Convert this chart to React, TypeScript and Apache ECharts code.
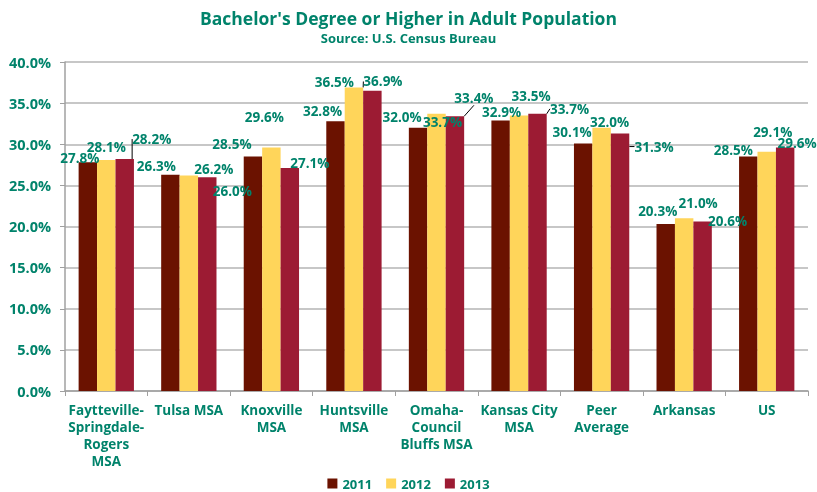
import React, { useEffect, useRef } from "react";
import * as echarts from "echarts";

const categories = [
  "Faytteville-\nSpringdale-\nRogers\nMSA",
  "Tulsa MSA",
  "Knoxville\nMSA",
  "Huntsville\nMSA",
  "Omaha-\nCouncil\nBluffs MSA",
  "Kansas City\nMSA",
  "Peer\nAverage",
  "Arkansas",
  "US",
];
const seriesNames = ["2011", "2012", "2013"];
const values2011 = [27.8, 26.3, 28.5, 32.8, 32.0, 32.9, 30.1, 20.3, 28.5];
const values2012 = [28.1, 26.2, 29.6, 36.9, 33.7, 33.5, 32.0, 21.0, 29.1];
const values2013 = [28.2, 26.0, 27.1, 36.5, 33.4, 33.7, 31.3, 20.6, 29.6];
const yTicks = { min: 0, max: 40, interval: 5 };

// label offsets (dx, dy) as placed in the reference
const labelOffsets = [
  [[-8, 8], [-14, 3], [-21, -1], [-13, 2], [-16, 1], [1, 4], [-11, 1], [-8, -1], [-15, 5]],
  [[0, -1], [25, 5], [-7, -19], [29, 6], [6, 20], [12, -7], [8, 6], [14, -3], [6, -8]],
  [[27, -8], [25, 26], [20, 7], [-38, 3], [19, -6], [32, 7], [34, 25], [25, 11], [12, 7]],
];
const leaderLines = [
  [],
  [3],
  [0, 4, 5, 6],
];

const TEAL = "#00836B";
const COLORS = ["#6B1200", "#FFD55A", "#9C1B33"];
const FONT = "Open Sans";

export default function App() {
  const ref = useRef<HTMLDivElement>(null);
  useEffect(() => {
    if (!ref.current) return;
    const chart = echarts.init(ref.current, undefined, { renderer: "svg" });
    const all = [values2011, values2012, values2013];
    chart.setOption({
      animation: false,
      textStyle: { fontFamily: FONT },
      title: {
        text: "Bachelor's Degree or Higher in Adult Population",
        subtext: "Source: U.S. Census Bureau",
        left: "center",
        top: 4,
        itemGap: 4,
        textStyle: { fontFamily: FONT, fontSize: 17.5, fontWeight: "bold", color: TEAL },
        subtextStyle: { fontFamily: FONT, fontSize: 13, fontWeight: "bold", color: TEAL },
      },
      legend: {
        bottom: 2,
        left: "center",
        padding: 0,
        icon: "rect",
        itemWidth: 10,
        itemHeight: 10,
        itemGap: 14,
        textStyle: { fontFamily: FONT, fontSize: 13, fontWeight: "bold", color: TEAL },
        data: seriesNames,
      },
      grid: { left: 65, right: 9, top: 62, bottom: 101 },
      xAxis: {
        type: "category",
        data: categories,
        axisLine: { lineStyle: { color: "#a0a0a0", width: 1.5 } },
        axisTick: { show: true, length: 5, lineStyle: { color: "#a0a0a0" } },
        axisLabel: {
          interval: 0,
          color: TEAL,
          fontFamily: FONT,
          fontSize: 13.5,
          fontWeight: "bold",
          lineHeight: 17,
          margin: 10,
        },
      },
      yAxis: {
        type: "value",
        min: yTicks.min,
        max: yTicks.max,
        interval: yTicks.interval,
        axisLine: { show: true, lineStyle: { color: "#a0a0a0", width: 1.5 } },
        axisTick: { show: true, length: 5, lineStyle: { color: "#a0a0a0" } },
        splitLine: { lineStyle: { color: "#b4b4b4", width: 1.5 } },
        axisLabel: {
          color: TEAL,
          fontFamily: FONT,
          fontSize: 14.5,
          fontWeight: "bold",
          margin: 14,
          formatter: (v: number) => v.toFixed(1) + "%",
        },
      },
      series: seriesNames.map((name, si) => ({
        name,
        type: "bar",
        barGap: "0%",
        barCategoryGap: "33%",
        itemStyle: { color: COLORS[si] },
        label: {
          show: true,
          position: "top",
          color: TEAL,
          fontFamily: FONT,
          fontSize: 13.5,
          fontWeight: "bold",
          formatter: (p: any) => Number(p.value).toFixed(1) + "%",
        },
        labelLine: { show: false, lineStyle: { color: "#000", width: 1 } },
        labelLayout: (params: any) => {
          const off = labelOffsets[params.seriesIndex][params.dataIndex];
          return { dx: off[0], dy: off[1] };
        },
        data: all[si].map((v, i) => ({
          value: v,
          labelLine: { show: leaderLines[si].includes(i), lineStyle: { color: "#000", width: 1 } },
        })),
      })),
    });
    return () => chart.dispose();
  }, []);
  return (
    <div
      ref={ref}
      style={{ position: "fixed", left: 0, top: 0, width: 817, height: 492 }}
    />
  );
}
